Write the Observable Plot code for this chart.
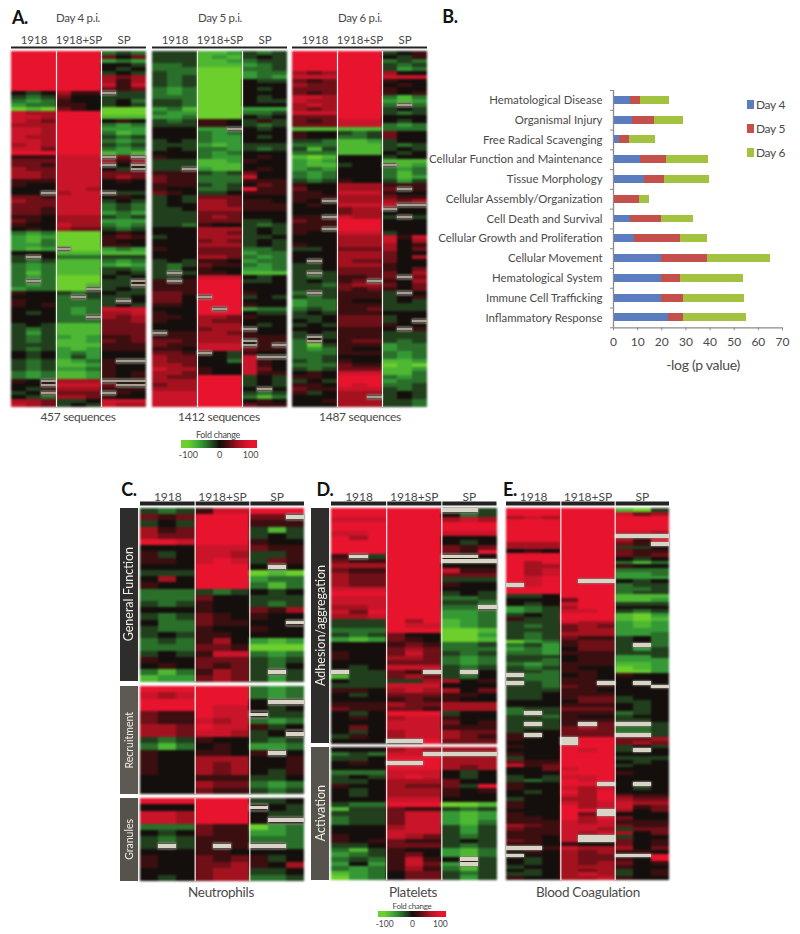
<!DOCTYPE html>
<html><head><meta charset="utf-8">
<script src="https://cdn.jsdelivr.net/npm/d3@7"></script>
<script src="https://cdn.jsdelivr.net/npm/@observablehq/plot@0.6"></script>
<style>
html,body{margin:0;padding:0;background:#fff}
#page{position:relative;width:800px;height:934px;overflow:hidden;font-family:Lato,sans-serif;color:#4a4a4a}
#page svg{position:absolute;background:transparent;overflow:visible}
.t{position:absolute;transform:translate(-50%,-50%);white-space:nowrap;letter-spacing:-0.3px}
.side{position:absolute;color:#f0efe8;display:flex;align-items:center;justify-content:center;writing-mode:vertical-rl}
.side span{transform:rotate(180deg);white-space:nowrap}
</style></head><body><div id="page"></div>
<script>
// Level codes: 0 black; 1-5 red +20..+100; a-e green -20..-100; "." no data.
const day4 = [
"555 555 bab","555 555 202","555 555 cbc","555 555 00a","555 555 0a0","555 555 a0a","555 555 323","555 555 313","555 555 414","555 555 212",
"0a0 311 .aa","aba 200 aaa","bcb 100 a0b","cbb 110 a0a","ede 210 eee",
"433 555 eee","443 555 ddd","432 555 010","333 555 bcb","443 555 ccc","443 555 bdc","433 555 aba","443 555 bcb","343 555 aba","442 555 bcb","555 555 dcd",
"111 444 .2.","222 444 313","221 444 .0.","322 444 0a.","332 444 222","332 444 232","111 444 010","100 444 000","000 443 000","00. 344 .aa","221 444 010","322 444 a0a","222 444 bab","221 444 bab","221 444 cbc","110 333 aba","210 333 ccc","100 433 bcb","010 322 aba",
"bcb eee 010","cdc eee 121","cdb eee 100","ccb eee 110","cdc .ee cbc","000 ddd ddd","a.0 bbb aaa","aba ddd bcb","bcb ddd cdc","bcb ddd aab","bdb ddd a0a","bcb eee 0a0","b.b eee aa.","bcb eed aa.","cbb ee. a0a",
"100 aba 0aa","000 b.a aa0","100 bbb a.0","101 bbb a0a","000 bcb 444","0a0 bcb 334","000 bb. 323","000 bbb 223",
"a0a ddd 222","aba ddd 222","aca ddd 222","aba cdc 112","aba ddc 212","aaa ddd 111","aba cdc 111","0a0 cbc 000","0a0 cac 000","aba dcb 1..","aba ddc 100","aba ccb 100","bcb ddc 101","bcb ddc 101",
"10. 333 ...","00. 444 2..","0a1 333 111","a0. 222 .10","0ab 332 100","332 aa0 444","432 a0a 433"];
const day5 = [
"aaa ddc aba","aaa dcd a0a","aaa ddc baa","bba ddd cba","bbb eee bba","abb eee cbb","aba eee cbc","aba eee 0aa","aba eee 000","bcb eee 0a0","bcb eee 000","bbb eee 0a0","aab eee 0aa","aab eee 000",
"cbd eee ccc","bcc eee bba","ccb eee 0a0","aba 110 a1a","aaa 110 aba","000 cc. 0a0","000 bcb 000","000 bcc 0a0","a0a bcc 000","aaa cdc aaa","a0a bbc aba","000 bcb 000","100 bcc 010","aaa ddc 100","aaa ddd 000","aa. cdd 010",
"111 aba 200","211 bbb 400","211 bbb 111","111 aba 021","100 bba 511","210 aa0 111","a0a 222 000","a0a 332 110","a00 332 111","aa0 333 111","aaa 222 000","aaa 232 000","aaa 222 aa0",
"aab 100 aba","000 333 a0a","000 332 a0a","a00 333 aa0","000 232 a0a","000 333 a0a","100 222 bba","000 222 cbb","000 332 bcb","a0a 110 cbb","aba 211 bcb","ab0 100 ccb","a.a 110 ddd",
"aa0 444 0a0","1.1 555 aa0","111 555 000","111 555 000","221 555 100","220 .55 a0a","220 555 000","110 555 100","000 5.5 cbb","100 555 0aa","110 332 100","100 322 000","000 333 0a0","000 233 .00",
".11 332 100","111 333 111","221 333 .11","211 444 .1.","110 444 211","221 .0a 100","322 00a 4..","322 00b 410","332 000 410","433 100 420","332 100 411","322 555 a0a","333 555 a0a","233 555 a0a","333 555 0.0","444 555 aba","444 555 bdb","444 555 010","444 555 211"];
const day6 = [
"555 555 a01","555 555 0a1","555 555 bab","555 555 aba","555 555 acb","323 555 300","444 555 444","212 555 100","322 555 010","222 555 100","212 555 101","443 555 bdb","433 555 cdc","343 555 b.b","323 555 a0a","444 555 aba",
"222 555 000","212 444 0a0","222 444 bcb","ddd ddd bbb","100 aba 200","100 bba 200","aab ddc a00","bbb ddd aba","ada ddd a0a","bbb ddd 0a0","ded 000 a00","cdc 000 ddd","cdd a00 .dc","cbc 000 bcb","bcb 000 bdb","bcb 000 bdc","aba 100 aca",
"100 333 111","200 333 2.1","110 444 100","111 333 211","10. 333 323","010 444 4..","000 233 .00","000 233 000","11. 433 a.a","211 555 000","111 555 000","11. 555 000","100 444 a00",
"000 333 414","000 333 403","100 333 301","aa0 222 302","000 333 200","000 333 203","0.0 322 200","aa0 333 100","aa0 222 102","a.a 222 203","aba 112 2.2","a0a 12. 103","aab 233 202","aaa 212 102","b.a 111 a.0","aba 111 a01","cbb 100 a0a","cbb 111 aaa","bab 112 aaa","a0a 111 000","aa0 222 a00","0a0 222 a0.","a0a 222 100","000 111 0.1",
"a0a 111 aaa","a.a 111 aaa","b.0 122 aba","bea 111 cbb","bcb 100 cbb","bbb 111 bcb","bba 000 bcb","aba 100 ddc","bbb 211 ede","aba 222 ddc","010 444 ddb","110 555 bcb","a0a 555 cbb","110 545 bba","211 444 aba","1a0 333 a0a","000 33. a0a","001 333 aab","000 333 aab"];

const neutroGeneral = [
"aba 144 555","212 555 22.","a0a 555 111","312 555 ada","322 555 a0a","554 555 100","000 444 211","1a0 443 aa1","110 454 a21","000 555 0.0","aaa 555 ede","030 555 cbb","100 555 bdb",
"bbb aba 0a0","bbb 200 aaa","aba 100 aba","000 100 213","aba 210 100","0bb 211 00.","abb 100 100","a0a 110 000","bab 130 cdc","bbb 221 eee","a0a 144 bcb","100 222 aba","010 212 ab0","bdb 132 a.a","dcc 232 aca"];
const neutroRecruit = [
"555 555 bcb","434 555 bcb","555 555 0..","555 544 0a0","211 544 .aa","211 434 bcb","332 544 1a0","332 443 a0.","aba 100 aba","bdb 010 ccb","100 110 1.0","100 333 001","100 323 001","100 323 0a1","000 111 aa0","000 322 bcb","000 211 aba"];
const neutroGranules = [
"555 555 aa0","000 555 .0a","443 555 0aa","443 555 0..","bbb 211 ecb","0a0 211 ccb","aba 111 bbb","a.a 1.1 ..b","000 110 000","100 212 1a0","100 223 103","000 233 aa0","0a0 233 bba"];

const plateletAdhesion = [
"555 555 ..a","555 555 0ba","444 555 343","555 555 555","555 555 555","445 555 444","535 555 000","555 555 0a0","555 555 212","555 555 215","1.a 555 ..0","211 555 ...","333 555 000","211 555 411","322 555 222","322 555 aaa","322 555 100","444 555 000","555 555 a0a","444 555 bba","444 555 aab","334 555 bb.","425 555 ccb","334 555 ccb",
"aaa 535 dcb","aaa 544 dcb","bbb 555 eed","aba 200 eec","cdc 210 eed","000 121 bba","000 232 bbb","100 242 aba","100 332 bcb","000 222 bcb","0a0 444 aba",".aa 21. a.0","daa 232 ab0","0aa aa3 301","aaa 444 000","110 343 302","0a0 222 110","000 121 100","111 322 333","211 221 333","0a0 555 a00","010 344 100","000 444 201","020 444 111","0a0 344 322","a10 344 321","000 ..5 222"];
const plateletActivation = [
"000 343 333","bab 44. ...","aa0 555 333","010 ..5 333","000 555 323","bbb 444 0a0","a0a 454 0a0","aa0 333 200","100 322 2a5","0a0 333 101","0a0 333 100","000 444 000",
"abb 555 eed","daa 211 aba","aaa 244 cdc","baa 244 cdc","baa 244 cdb","000 344 aca","000 444 aca","100 432 aba","101 211 a0a","aa0 222 aba","bda 100 cdb","cba 120 cdb","bab 141 0.a","c0c 142 c.a","bcb 131 bda","dcb 022 aba","ecb 022 aca"];

const coagulation = [
"555 555 dea","555 555 423","343 555 555","555 555 555","555 555 555","555 555 555","555 555 443","555 555 ...","555 555 315","333 555 21.","333 555 aa0","010 555 211","555 555 212","555 555 0a0","535 555 bdb","533 555 100","534 555 bbb","534 555 ccb","545 555 ccc","545 5.. 0a0",".45 555 baa","555 555 bba","555 555 baa",
"aa0 555 ddd","000 255 ddc","0a0 455 aaa","cba 355 000","cba 445 aba","a0a 555 dec","1aa 555 ded","aaa 433 cdc","aba 232 cdc","aaa 233 ccc","aba 333 ccb","aba 211 a0b","ecb 122 a0b","bac 122 a.b","cbc 022 aca","bbc 111 aaa","aaa 011 cca","aab 011 ccc","bcb 111 ddc","aba 100 edc","aab 110 eec",
".bb 010 100","abb 110 000",".ab 11. 0.0","aab 211 00.","aaa 110 000","aa0 111 000","aa0 122 a00","000 022 aa0","000 111 0a0","baa 222 0a0","b.a 111 ba0","aab 100 a00","aaa 111 aa0","a.a 1.2 ..a","aaa 232 bba","a00 222 bba","1.0 222 ..a",
"100 .55 223","000 .55 232","100 555 a0a","000 545 a.0","100 555 000","a00 555 aaa","211 555 0a0","412 555 a00","002 455 000","000 555 100","a0a 445 000","aba 545 000","100 55. 0.0","100 434 0a0","0a0 535 000","000 435 211","a00 335 322","100 434 433","100 534 412","000 55. 302","100 52. 000","110 535 200","111 434 111","321 444 211","211 443 a22","111 434 302","110 4.. a00","210 4.. 201","110 100 201","..1 433 302","010 323 110",".00 322 ..5","0a0 322 105","0a0 323 201","a00 333 100","0a0 323 a01","aa0 343 a01","100 334 100"];

const treatments = ["1918","1918+SP","SP"];
const levelValues = {"0":0,"1":20,"2":40,"3":60,"4":80,"5":100,a:-20,b:-40,c:-60,d:-80,e:-100};

const categories = ["Hematological Disease","Organismal Injury","Free Radical Scavenging","Cellular Function and Maintenance","Tissue Morphology","Cellular Assembly/Organization","Cell Death and Survival","Cellular Growth and Proliferation","Cellular Movement","Hematological System","Immune Cell Trafficking","Inflammatory Response"];
const seriesNames = ["Day 4","Day 5","Day 6"];
const seriesDay4 = [7.2,7.9,2.6,11.2,12.7,0,7.2,8.7,20,20,20,22.8];
const seriesDay5 = [4.1,9.1,3.9,10.6,8.4,10.9,12.8,19.2,19,7.9,9,6.2];
const seriesDay6 = [11.7,12,10.9,17.7,18.8,4.1,13,11.1,25.9,25.8,25.1,26.2];
const seriesColors = ["#5b7dbf","#c4504c","#a3c240"];

const page = document.getElementById("page");
const colorScale = {type:"linear",domain:[-100,-80,-60,-40,-20,0,20,40,60,80,100],
  range:["#6ccf2c","#4fb832","#359a36","#2a6f2a","#213f1d","#140f0c","#3b0e10","#6f0f18","#a5121f","#c9142a","#e8142e"],clamp:true};

function place(node,left,top){node.style.left=left+"px";node.style.top=top+"px";page.appendChild(node);return node;}
function label(text,x,y,size,extra={}){
  const d=document.createElement("div");d.className="t";d.textContent=text;
  d.style.left=x+"px";d.style.top=y+"px";d.style.fontSize=size+"px";
  Object.assign(d.style,extra);page.appendChild(d);
}
function side(text,l,t,w,h,bg,size){
  const d=document.createElement("div");d.className="side";
  Object.assign(d.style,{left:l+"px",top:t+"px",width:w+"px",height:h+"px",background:bg,fontSize:size+"px"});
  const s=document.createElement("span");s.textContent=text;d.appendChild(s);page.appendChild(d);
}
function parse(rows){
  const cells=[],missing=[];
  rows.forEach((row,r)=>{
    [...row.replace(/ /g,"")].forEach((ch,c)=>{
      (ch==="."?missing:cells).push({r,c,v:levelValues[ch]});
    });
  });
  return {cells,missing,n:rows.length};
}
function heat(rows,{left,top,width,height,header=false,bar=2,dy=-4,fs=12,blur=0.8,gap=0,none="#d8d5c6",under="#2a1f18"}){
  const {cells,missing,n}=parse(rows);
  const mt=header?24:0;
  const box={x1:"c",x2:d=>d.c+1,y1:"r",y2:d=>d.r+1,shapeRendering:"crispEdges"};
  const marks=[
    Plot.rect(cells,{...box,fill:"v"}),
    Plot.rect(missing,{...box,fill:under}),
    Plot.rect(missing,{...box,fill:none,insetTop:gap,insetBottom:gap})
  ];
  if(header){
    marks.push(Plot.ruleY([0],{dy,stroke:"#222",strokeWidth:bar}));
    marks.push(Plot.axisX({anchor:"top",ticks:[1.5,4.5,7.5],tickFormat:v=>treatments[(v-1.5)/3],tickSize:0,tickPadding:8,fontSize:fs,label:null,fill:"#4a4a4a"}));
  }
  marks.push(Plot.ruleX([3,6],{stroke:"#f4f4f0",strokeWidth:1.2,insetTop:header?-7:0}));
  const svg=Plot.plot({width,height:height+mt,marginTop:mt,marginBottom:0,marginLeft:0,marginRight:0,
    x:{domain:[0,9],axis:null},y:{domain:[0,n],reverse:true,axis:null},color:colorScale,
    style:{background:"transparent",fontFamily:"Lato,sans-serif"},marks});
  place(svg,left,top-mt);
  [...svg.querySelectorAll('g[aria-label="rect"]')].slice(0,2).forEach(g=>g.style.filter=`blur(${blur}px)`);
}
function foldLegend(left,top,width,barH,fs){
  const stops=d3.range(-122,122,2);
  const svg=Plot.plot({width,height:barH+14,marginTop:0,marginBottom:14,marginLeft:0,marginRight:0,
    x:{domain:[-122,122],axis:null},color:colorScale,
    style:{background:"transparent",fontFamily:"Lato,sans-serif",overflow:"visible"},
    marks:[
      Plot.rect(stops,{x1:d=>d,x2:d=>d+2,fill:d=>d,shapeRendering:"crispEdges"}),
      Plot.axisX({ticks:[-100,0,100],tickSize:0,tickPadding:3,fontSize:fs,label:null,fill:"#4a4a4a",tickFormat:d=>String(d)})
    ]});
  place(svg,left,top);
}

// Panel A
const thin={gap:1.4,blur:0.9,none:"#a8a08e"};
heat(day4,{left:11,top:50.5,width:135,height:356,...thin});
heat(day5,{left:152,top:50.5,width:135,height:356,...thin});
heat(day6,{left:292,top:50.5,width:135,height:356,...thin});
[11,152,292].forEach(l=>{
  const svg=Plot.plot({width:135,height:24,marginTop:24,marginBottom:0,marginLeft:0,marginRight:0,
    x:{domain:[0,9],axis:null},y:{domain:[0,1],axis:null},
    style:{background:"transparent",fontFamily:"Lato,sans-serif"},
    marks:[Plot.ruleY([1],{dy:-4,stroke:"#222",strokeWidth:2}),
      Plot.axisX({anchor:"top",ticks:[1.5,4.5,7.5],tickFormat:v=>treatments[(v-1.5)/3],tickSize:0,tickPadding:8,fontSize:11.5,label:null,fill:"#4a4a4a"})]});
  place(svg,l,26.5);
});
label("A.",20,17,18,{fontWeight:"700",color:"#111"});
label("Day 4 p.i.",78,17,11.5);
label("Day 5 p.i.",220,17,11.5);
label("Day 6 p.i.",360,17,11.5);
label("457 sequences",78,416,12);
label("1412 sequences",219,416,12);
label("1487 sequences",360,416,12);
label("Fold change",218,434,9);
foldLegend(181,440,76,8,9);

// Panel B
const table=seriesNames.flatMap((s,k)=>[seriesDay4,seriesDay5,seriesDay6][k].map((v,i)=>({i,v,s})));
const barSvg=Plot.plot({width:370,height:290,marginLeft:183,marginRight:18,marginTop:10,marginBottom:42.7,
  x:{domain:[0,70],axis:null},y:{domain:[0,12],reverse:true,axis:null},
  color:{domain:seriesNames,range:seriesColors},
  style:{background:"transparent",fontFamily:"Lato,sans-serif"},
  marks:[
    Plot.rectX(table,{x:"v",y1:d=>d.i+0.3,y2:d=>d.i+0.7,fill:"s",shapeRendering:"crispEdges"}),
    Plot.ruleX([0],{stroke:"#8a8a8a",strokeWidth:1.3}),
    Plot.ruleY([12],{stroke:"#8a8a8a",strokeWidth:1.3}),
    Plot.axisY({ticks:d3.range(0,13),tickFormat:()=>"",tickSize:3,stroke:"#8a8a8a",label:null}),
    Plot.axisY({ticks:categories.map((c,i)=>i+0.5),tickFormat:v=>categories[v-0.5],tickSize:0,tickPadding:11,fontSize:11.4,fill:"#4a4a4a",label:null,textAnchor:"end"}),
    Plot.axisX({ticks:d3.range(0,71,10),tickSize:3,stroke:"#8a8a8a",tickPadding:7,fontSize:12,fill:"#4a4a4a",label:null})
  ]});
place(barSvg,430,80);
label("-log (p value)",703,364,14);
label("B.",450,16,18,{fontWeight:"700",color:"#111"});
seriesNames.forEach((s,k)=>{
  const y=104+24*k;
  const sw=document.createElement("div");
  Object.assign(sw.style,{position:"absolute",left:"747px",top:(y-4.5)+"px",width:"7px",height:"9px",background:seriesColors[k]});
  page.appendChild(sw);
  label(s,770.5,y,12);
});

// Panel C
const bar4={bar:4,dy:-5};
heat(neutroGeneral,{left:139.5,top:507.7,width:164,height:173.5,header:true,...bar4,gap:1.3});
heat(neutroRecruit,{left:139.5,top:686,width:164,height:108,gap:1.3});
heat(neutroGranules,{left:139.5,top:797.5,width:164,height:83,gap:1.3});
side("General Function",120,507.7,17.5,173.5,"#2f2d2b",12.5);
side("Recruitment",120,686,17.5,108,"#5c5a52",10.5);
side("Granules",120,797.5,17.5,83,"#55534b",10.5);
label("C.",129,489,18,{fontWeight:"700",color:"#111"});
label("Neutrophils",221,892,13.5);

// Panel D
heat(plateletAdhesion,{left:331,top:507.7,width:165.5,height:235.5,header:true,...bar4,gap:0.4});
heat(plateletActivation,{left:331,top:747,width:165.5,height:133,gap:0.4});
side("Adhesion/aggregation",311,507.7,18,235.5,"#2f2d2b",12.5);
side("Activation",311,747,18,133,"#55534b",12.5);
label("D.",325,489,18,{fontWeight:"700",color:"#111"});
label("Platelets",413,892,13.5);
label("Fold change",412,906,8);
foldLegend(378,911,68,6,8.5);

// Panel E
heat(coagulation,{left:506,top:508,width:163,height:372,header:true,...bar4,blur:0.8});
label("E.",510,489,18,{fontWeight:"700",color:"#111"});
label("Blood Coagulation",588,892,13.5);
</script></body></html>
